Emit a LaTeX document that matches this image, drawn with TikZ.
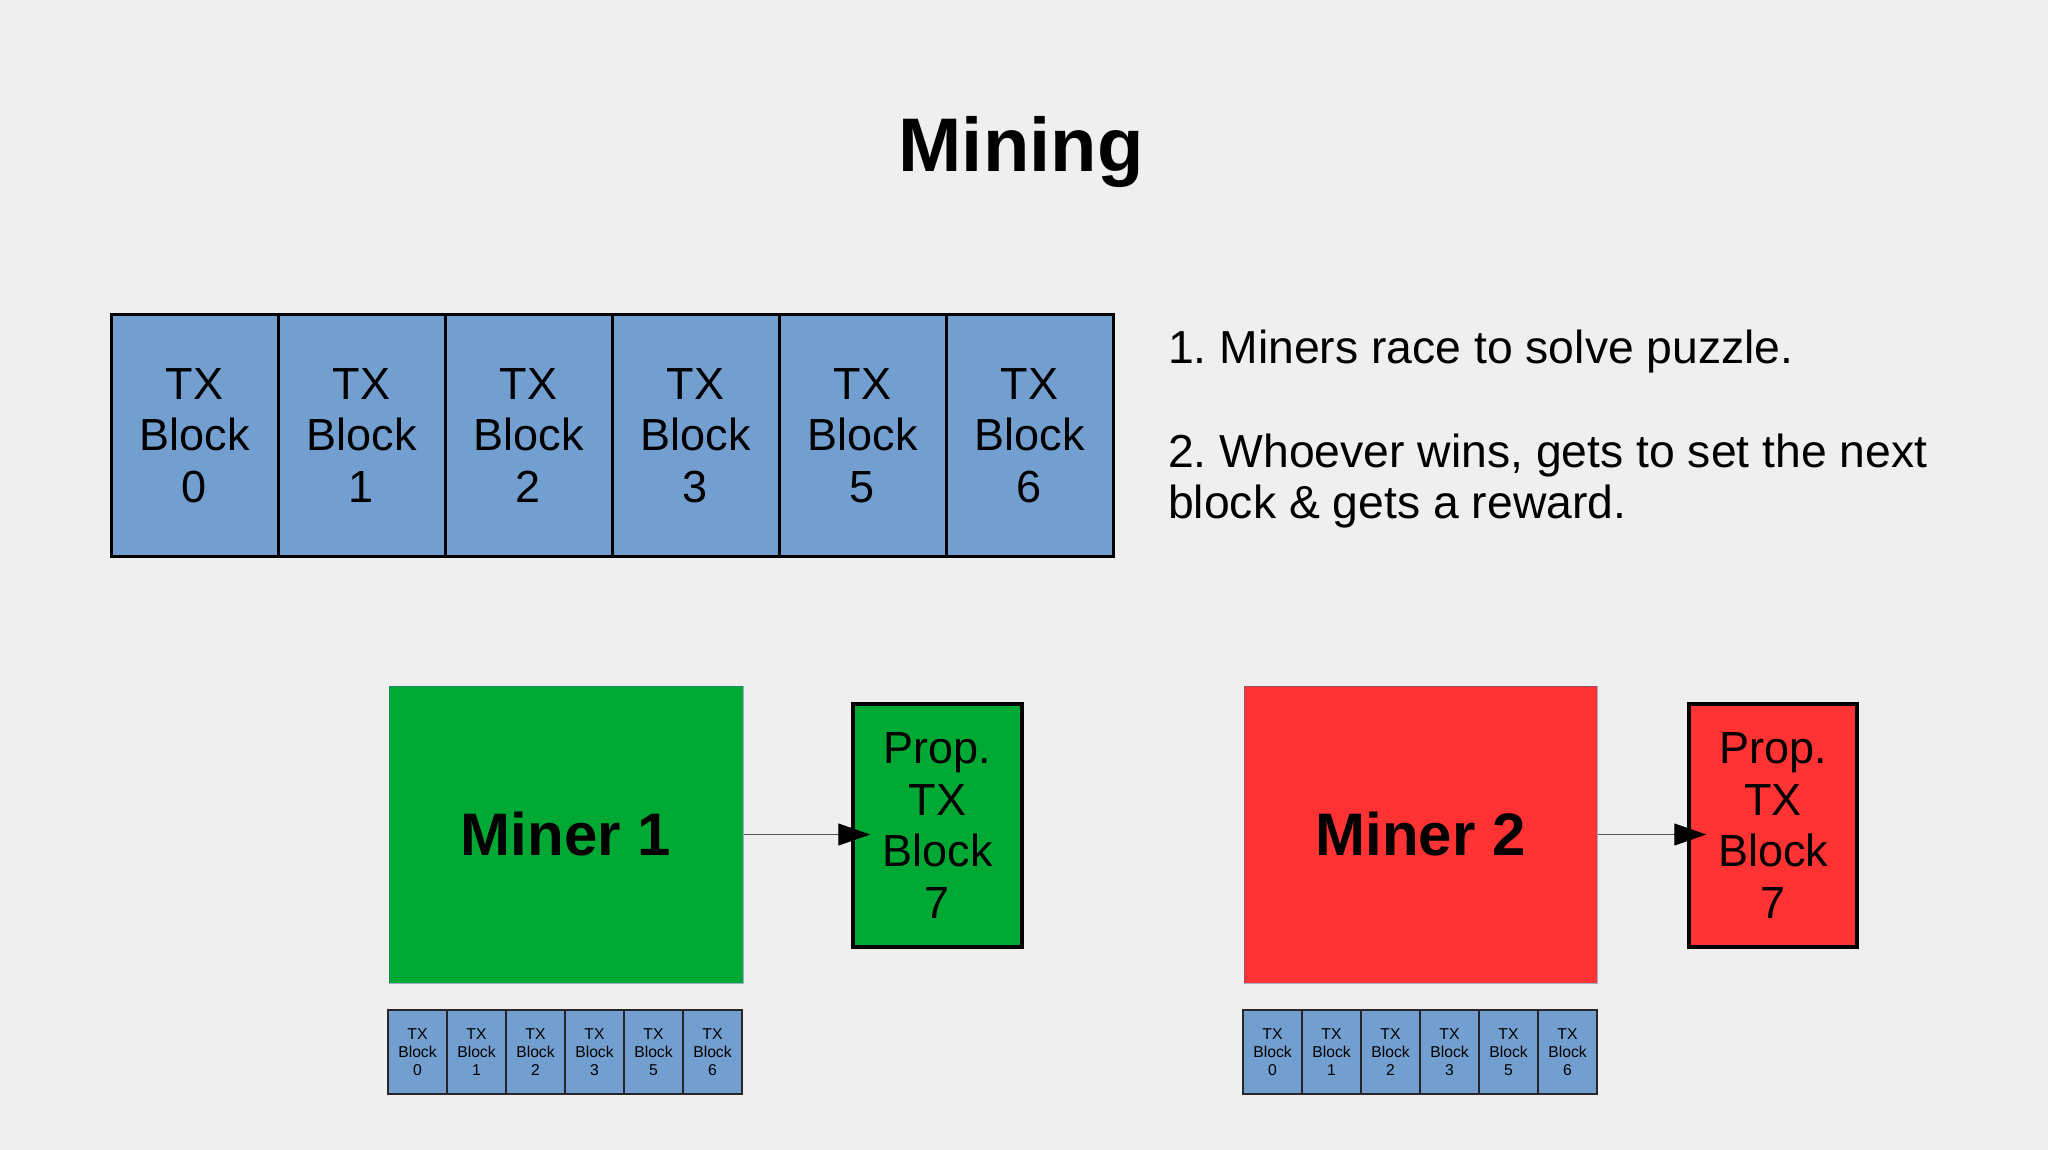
\documentclass[tikz,border=0pt]{standalone}
\usepackage{fontspec}
\setmainfont{Liberation Sans}
\usetikzlibrary{arrows.meta}
\frenchspacing
\definecolor{bgc}{HTML}{EFEFEF}
\definecolor{cellblue}{HTML}{729FCF}
\definecolor{minergreen}{HTML}{00A933}
\definecolor{minerred}{HTML}{FF3333}
\definecolor{edgeblue}{HTML}{3465A4}
\definecolor{conngray}{HTML}{555555}
\tikzset{
  bigcell/.style={draw=black, line width=3pt, fill=cellblue, minimum width=167pt, minimum height=241pt,
    inner sep=0pt, align=center, font=\fontsize{45}{51.7}\selectfont},
  smallcell/.style={draw=black!85, line width=1.2pt, fill=cellblue, minimum width=59pt, minimum height=84pt,
    inner sep=0pt, align=center, font=\fontsize{15.7}{18}\selectfont},
  minerbox/.style={draw=edgeblue, draw opacity=0.45, line width=1pt, minimum width=354pt, minimum height=297pt,
    inner sep=0pt, font=\bfseries\fontsize{60}{69}\selectfont},
  propbox/.style={draw=black, line width=3.5pt, minimum width=169pt, minimum height=243pt,
    inner sep=0pt, align=center, font=\fontsize{45}{51.7}\selectfont},
  conn/.style={draw=conngray, line width=1pt, -{Triangle[length=32pt,width=22pt,color=black,fill=black]}},
}
\begin{document}
\begin{tikzpicture}[x=1pt,y=-1pt]
\fill[bgc] (0,0) rectangle (2048,1150);
\useasboundingbox (0,0) rectangle (2048,1150);

% title
\node[anchor=base, inner sep=0pt, font=\bfseries\fontsize{76}{87}\selectfont] (title) at (1021,172) {Mining};

% top chain
\foreach \n [count=\k from 0] in {0,1,2,3,5,6} {
  \node[bigcell] (top\k) at ({194.5+167*\k},435.5) {TX\\Block\\\n};
}

% explanation text
\node[anchor=north west, inner sep=0pt, align=left, font=\fontsize{46.3}{51.7}\selectfont] (expl) at (1168,330)
  {1. Miners race to solve puzzle.\\[51.7pt]2. Whoever wins, gets to set the next\\block \& gets a reward.};

% miners
\node[minerbox, fill=minergreen] (m1) at (566,834.5) {Miner 1};
\node[minerbox, fill=minerred, minimum width=353pt] (m2) at (1420.5,834.5) {Miner 2};

% proposed blocks
\node[propbox, fill=minergreen] (p1) at (937.5,825.5) {Prop.\\TX\\Block\\7};
\node[propbox, fill=minerred, minimum width=168pt] (p2) at (1773,825.5) {Prop.\\TX\\Block\\7};

% connectors
\draw[conn] (m1.east) -- ([xshift=19pt]p1.west |- m1.east);
\draw[conn] (m2.east) -- ([xshift=19pt]p2.west |- m2.east);

% small chains
\foreach \n [count=\k from 0] in {0,1,2,3,5,6} {
  \node[smallcell] (a\k) at ({417.5+59*\k},1052) {TX\\Block\\\n};
  \node[smallcell] (b\k) at ({1272.5+59*\k},1052) {TX\\Block\\\n};
}
\end{tikzpicture}
\end{document}
